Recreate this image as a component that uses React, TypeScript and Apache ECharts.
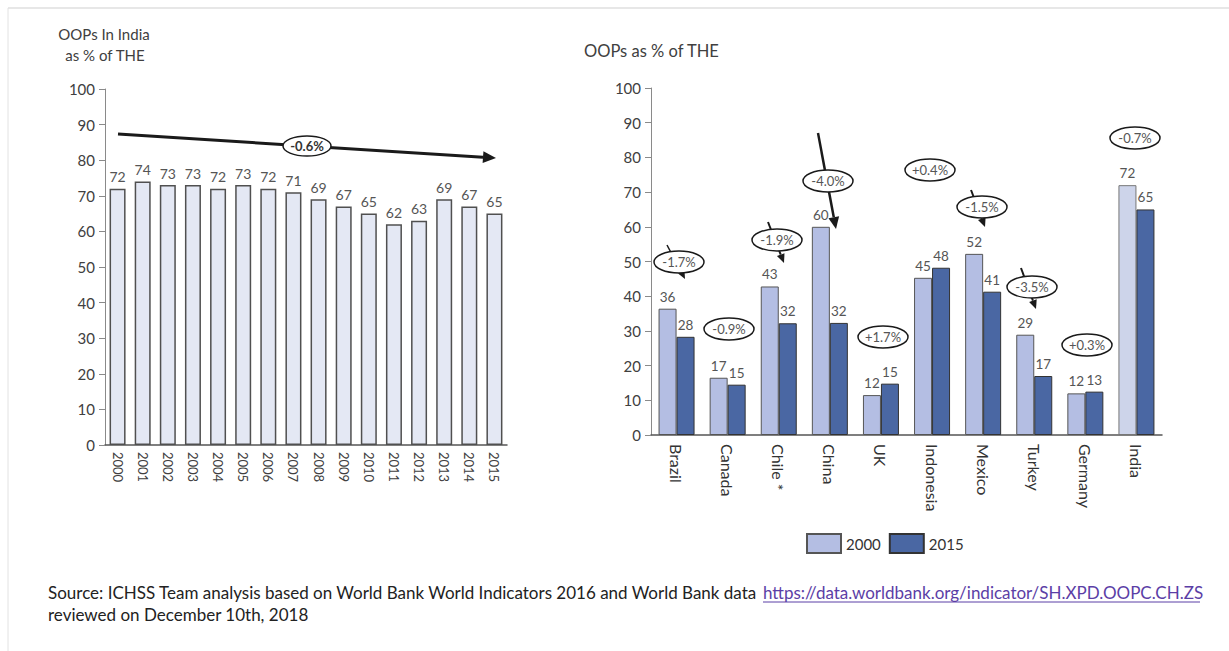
import React, { useEffect, useRef } from "react";
import * as echarts from "echarts";

const years = ["2000","2001","2002","2003","2004","2005","2006","2007","2008","2009","2010","2011","2012","2013","2014","2015"];
const indiaOop = [72, 74, 73, 73, 72, 73, 72, 71, 69, 67, 65, 62, 63, 69, 67, 65];

const countries = ["Brazil","Canada","Chile *","China","UK","Indonesia","Mexico","Turkey","Germany","India"];
const oop2000 = [36.4, 16.5, 42.8, 60, 11.5, 45.3, 52.2, 28.9, 12, 72];
const oop2015 = [28.3, 14.5, 32.2, 32.3, 14.8, 48.2, 41.3, 17, 12.5, 65];

const cagrLabels = ["-1.7%","-0.9%","-1.9%","-4.0%","+1.7%","+0.4%","-1.5%","-3.5%","+0.3%","-0.7%"];
const indiaCagr = "-0.6%";

const FONT = "Lato, 'Open Sans', sans-serif";

function arrow(x1: number, y1: number, x2: number, y2: number, w: number, head: number) {
  const dx = x2 - x1, dy = y2 - y1;
  const len = Math.sqrt(dx * dx + dy * dy);
  const ux = dx / len, uy = dy / len;
  const bx = x2 - ux * head, by = y2 - uy * head;
  const px = -uy * head * 0.45, py = ux * head * 0.45;
  return [
    { type: "line", shape: { x1, y1, x2: bx, y2: by }, style: { stroke: "#1a1a1a", lineWidth: w }, z: 10 },
    { type: "polygon", shape: { points: [[x2, y2], [bx + px, by + py], [bx - px, by - py]] }, style: { fill: "#1a1a1a" }, z: 10 },
  ];
}

function bubble(text: string, cx: number, cy: number, rx: number, ry: number, color: string, weight: string) {
  return [
    { type: "ellipse", shape: { cx, cy, rx, ry }, style: { fill: "#fff", stroke: "#1a1a1a", lineWidth: 1.5 }, z: 20 },
    { type: "text", x: cx, y: cy, style: { text, fill: color, font: `${weight} 13px ${FONT}`, align: "center", verticalAlign: "middle" }, z: 21 },
  ];
}

export default function App() {
  const ref = useRef<HTMLDivElement>(null);
  useEffect(() => {
    if (!ref.current) return;
    const chart = echarts.init(ref.current, null, { renderer: "svg" });

    const bubblePos = [
      [679, 262], [729, 329], [777, 240], [828, 181], [883, 337],
      [930, 170], [982, 207], [1032, 287], [1087, 345], [1135, 138],
    ];

    const graphics: any[] = [
      { type: "line", shape: { x1: 8, y1: 8, x2: 1229, y2: 8 }, style: { stroke: "#cfcfcf", lineWidth: 1 } },
      { type: "line", shape: { x1: 8, y1: 8, x2: 8, y2: 651 }, style: { stroke: "#e2e2e2", lineWidth: 1 } },
      { type: "text", x: 104, y: 34, style: { text: "OOPs In India", fill: "#404040", font: `15px ${FONT}`, align: "center", verticalAlign: "middle" } },
      { type: "text", x: 105, y: 55, style: { text: "as % of THE", fill: "#404040", font: `15px ${FONT}`, align: "center", verticalAlign: "middle" } },
      { type: "text", x: 584, y: 51, style: { text: "OOPs as % of THE", fill: "#404040", font: `16.5px ${FONT}`, align: "left", verticalAlign: "middle" } },
      ...arrow(118, 134, 496, 158, 3, 13),
      ...bubble(indiaCagr, 307, 146, 24, 10, "#333", "bold"),
      ...arrow(667, 245, 685, 279, 1.5, 8),
      ...arrow(768, 222, 784, 263, 2, 9),
      ...arrow(818, 133, 836, 229, 2.5, 12),
      ...arrow(971, 190, 985, 227, 2, 9),
      ...arrow(1021, 268, 1036, 309, 2, 9),
      { type: "text", x: 48, y: 592, style: { text: "Source: ICHSS Team analysis based on World Bank World Indicators 2016 and World Bank data", fill: "#222", font: `17px ${FONT}`, align: "left", verticalAlign: "middle" } },
      { type: "text", x: 763, y: 592, style: { text: "https://data.worldbank.org/indicator/SH.XPD.OOPC.CH.ZS", fill: "#5b3ea6", font: `17px ${FONT}`, align: "left", verticalAlign: "middle" } },
      { type: "line", shape: { x1: 763, y1: 602, x2: 1200, y2: 602 }, style: { stroke: "#5b3ea6", lineWidth: 1 } },
      { type: "text", x: 48, y: 614, style: { text: "reviewed on December 10th, 2018", fill: "#222", font: `17px ${FONT}`, align: "left", verticalAlign: "middle" } },
    ];
    cagrLabels.forEach((t, i) => {
      graphics.push(...bubble(t, bubblePos[i][0], bubblePos[i][1], 25, 11, "#555", "normal"));
    });

    const yAxisBase = {
      type: "value",
      min: 0,
      max: 100,
      interval: 10,
      axisLine: { show: true, lineStyle: { color: "#8a8a8a", width: 1 } },
      axisTick: { show: true, inside: false, length: 6, lineStyle: { color: "#8a8a8a" } },
      splitLine: { show: false },
      axisLabel: { color: "#404040", fontSize: 15, fontFamily: FONT, margin: 10 },
    };

    chart.setOption({
      animation: false,
      textStyle: { fontFamily: FONT },
      grid: [
        { left: 105, top: 89, width: 402, height: 356 },
        { left: 651, top: 88, width: 511, height: 347 },
      ],
      xAxis: [
        {
          type: "category", gridIndex: 0, data: years,
          axisLine: { lineStyle: { color: "#555", width: 1.5 } },
          axisTick: { show: false },
          axisLabel: { rotate: -90, color: "#404040", fontSize: 13, fontFamily: FONT, margin: 7 },
        },
        {
          type: "category", gridIndex: 1, data: countries,
          axisLine: { lineStyle: { color: "#555", width: 1.5 } },
          axisTick: { show: false },
          axisLabel: { rotate: -90, color: "#333", fontSize: 16, fontFamily: FONT, margin: 9 },
        },
      ],
      yAxis: [
        { ...yAxisBase, gridIndex: 0 },
        { ...yAxisBase, gridIndex: 1 },
      ],
      legend: {
        left: 801, top: 528, itemWidth: 34, itemGap: 8, itemHeight: 19,
        data: ["2000", "2015"],
        textStyle: { color: "#333", fontSize: 15, fontFamily: FONT },
        icon: "rect",
      },
      series: [
        {
          type: "bar", name: "India", xAxisIndex: 0, yAxisIndex: 0, data: indiaOop,
          barWidth: 16,
          itemStyle: { color: "#e4e8f4", borderColor: "#505050", borderWidth: 1.5 },
          label: { show: true, position: "top", distance: 5, color: "#555", fontSize: 14, fontFamily: FONT },
        },
        {
          type: "bar", name: "2000", xAxisIndex: 1, yAxisIndex: 1,
          data: oop2000.map((v, i) => i === countries.length - 1
            ? { value: v, itemStyle: { color: "#cdd4ea", borderColor: "#777" } }
            : v),
          barWidth: 18, barGap: "0%",
          itemStyle: { color: "#b4bee3", borderColor: "#555", borderWidth: 1 },
          label: { show: true, position: "top", distance: 5, color: "#555", fontSize: 13.5, fontFamily: FONT, formatter: (p: any) => String(Math.round(p.value)) },
        },
        {
          type: "bar", name: "2015", xAxisIndex: 1, yAxisIndex: 1, data: oop2015,
          barWidth: 18, barGap: "0%",
          itemStyle: { color: "#4a67a3", borderColor: "#333", borderWidth: 1 },
          label: { show: true, position: "top", distance: 5, color: "#555", fontSize: 13.5, fontFamily: FONT, formatter: (p: any) => String(Math.round(p.value)) },
        },
      ],
      graphic: graphics,
    });

    return () => chart.dispose();
  }, []);

  return (
    <div
      ref={ref}
      style={{ position: "fixed", left: 0, top: 0, width: 1229, height: 651, background: "#fff" }}
    />
  );
}
